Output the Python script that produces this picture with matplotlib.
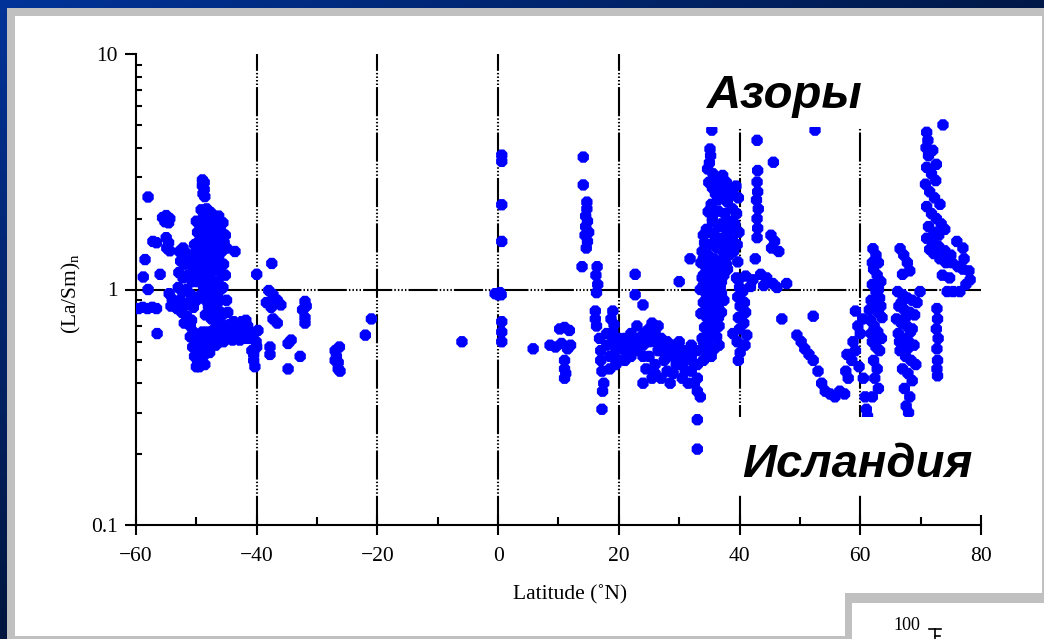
import numpy as np
import matplotlib.pyplot as plt
from matplotlib.patches import Rectangle
from matplotlib.lines import Line2D

# ---------------------------------------------------------------- data
lat_ticks = [-60, -40, -20, 0, 20, 40, 60, 80]
lat_minor = [-50, -30, -10, 10, 30, 50, 70]
ratio_ticks = [0.1, 1, 10]
ratio_labels = ["0.1", "1", "10"]
grid_lats = [-40, -20, 0, 20, 40, 60]

south_points = [
    (-58.0, 2.47), (-57.2, 1.60), (-56.6, 1.58),
    (-55.6, 2.02), (-55.0, 2.06), (-54.4, 2.00), (-55.2, 1.94), (-54.6, 1.92),
    (-55.0, 1.66), (-54.6, 1.58), (-54.9, 1.50), (-54.4, 1.46),
    (-58.5, 1.34), (-58.8, 1.13), (-56.0, 1.16), (-58.0, 1.00),
    (-59.6, 0.83), (-58.9, 0.84), (-58.1, 0.83), (-57.3, 0.84), (-56.6, 0.83),
    (-56.5, 0.65),
    (-54.5, 0.96), (-54.0, 0.91), (-53.6, 0.86), (-53.2, 0.83), (-54.2, 0.85),
    (-52.8, 1.45), (-52.2, 1.50), (-51.6, 1.42), (-52.6, 1.32), (-51.9, 1.28),
    (-51.2, 1.35), (-50.6, 1.25), (-52.9, 1.18), (-52.2, 1.12), (-51.4, 1.15),
    (-50.7, 1.08), (-53.0, 1.02), (-52.3, 0.98), (-51.6, 1.00), (-50.9, 0.95),
    (-52.7, 0.90), (-51.9, 0.86), (-51.2, 0.88), (-50.5, 0.84), (-52.4, 0.80),
    (-51.6, 0.77), (-50.8, 0.74), (-52.0, 0.72), (-51.0, 0.70), (-50.3, 1.55),
    (-50.4, 1.40),
    (-49.0, 2.92), (-48.7, 2.85), (-49.0, 2.76), (-48.7, 2.66), (-48.9, 2.55),
    (-48.6, 2.48),
    (-49.2, 2.18), (-48.3, 2.20), (-47.6, 2.12), (-48.8, 2.02), (-47.9, 1.98),
    (-47.0, 2.02), (-46.3, 2.05), (-45.6, 1.92), (-49.4, 1.88), (-48.5, 1.86),
    (-47.5, 1.82), (-46.6, 1.84), (-45.9, 1.76), (-49.0, 1.74), (-48.0, 1.70),
    (-47.0, 1.68), (-46.1, 1.62), (-45.4, 1.58), (-49.6, 1.60), (-48.6, 1.58),
    (-47.6, 1.55), (-46.7, 1.50), (-45.8, 1.45), (-49.2, 1.46), (-48.2, 1.42),
    (-47.2, 1.38), (-46.3, 1.34), (-45.5, 1.28), (-49.7, 1.34), (-48.8, 1.30),
    (-47.8, 1.26), (-46.9, 1.22), (-46.0, 1.18), (-49.3, 1.20), (-48.3, 1.15),
    (-47.4, 1.10), (-46.4, 1.07), (-45.6, 1.02), (-49.8, 1.08), (-48.8, 1.03),
    (-47.8, 0.99), (-46.9, 0.95), (-46.1, 0.90), (-49.4, 0.94), (-48.4, 0.90),
    (-47.3, 0.87), (-46.5, 0.82), (-45.7, 0.78), (-47.9, 0.80), (-46.9, 0.76),
    (-46.0, 0.72),
    (-50.0, 1.95), (-49.8, 1.75), (-50.0, 1.45), (-50.2, 1.20), (-50.0, 0.90),
    (-49.0, 1.95), (-48.0, 1.88), (-47.2, 1.92), (-46.0, 1.90), (-45.2, 1.70),
    (-45.0, 1.50), (-45.2, 1.15), (-45.0, 0.90), (-44.8, 0.80), (-45.6, 0.70),
    (-47.0, 1.55), (-48.0, 1.35), (-47.0, 1.30), (-46.0, 1.25), (-48.5, 1.22),
    (-47.5, 1.20), (-49.0, 1.12), (-48.0, 1.06), (-47.0, 1.03), (-46.0, 1.00),
    (-48.5, 0.96), (-47.5, 0.93), (-48.0, 0.85), (-47.0, 0.83), (-46.0, 0.80),
    (-48.5, 0.78), (-47.5, 0.75), (-46.5, 0.72),
    (-43.6, 1.45), (-40.0, 1.16), (-37.5, 1.29), (-38.0, 0.99), (-37.3, 0.95),
    (-36.6, 0.90), (-36.0, 0.86), (-38.4, 0.88), (-37.6, 0.84), (-32.0, 0.89),
    (-32.4, 0.82), (-32.0, 0.76), (-31.8, 0.85),
    (-51.0, 0.63), (-50.6, 0.57), (-50.3, 0.52), (-50.0, 0.47), (-49.6, 0.55),
    (-49.0, 0.60), (-48.6, 0.53), (-48.0, 0.57), (-47.5, 0.61), (-48.2, 0.66),
    (-47.0, 0.63), (-46.5, 0.68), (-46.0, 0.71), (-45.2, 0.68), (-44.4, 0.66),
    (-43.4, 0.70), (-42.4, 0.66), (-41.5, 0.70), (-40.7, 0.64), (-40.1, 0.60),
    (-39.8, 0.67), (-42.8, 0.61), (-44.8, 0.62), (-45.8, 0.64), (-43.8, 0.73),
    (-41.8, 0.74), (-40.8, 0.55), (-40.5, 0.50), (-40.3, 0.47), (-43.0, 0.64),
    (-41.2, 0.62), (-44.0, 0.69), (-45.5, 0.60), (-46.8, 0.58), (-48.6, 0.48),
    (-49.2, 0.50),
    (-50.5, 0.66), (-49.5, 0.63), (-49.0, 0.66), (-48.0, 0.62), (-47.0, 0.68),
    (-46.0, 0.62), (-45.0, 0.63), (-44.0, 0.61), (-43.0, 0.68), (-42.0, 0.70),
    (-42.0, 0.62), (-41.0, 0.66), (-44.5, 0.71), (-43.5, 0.65), (-42.5, 0.73),
    (-46.5, 0.64), (-45.5, 0.66), (-49.8, 0.50), (-49.5, 0.47), (-50.0, 0.58),
    (-49.4, 0.58), (-48.8, 0.56), (-47.8, 0.54), (-40.0, 0.57), (-40.5, 0.53),
    (-37.8, 0.53), (-37.8, 0.57), (-37.3, 0.75), (-36.6, 0.72), (-34.8, 0.59),
    (-34.3, 0.61), (-32.8, 0.52), (-34.8, 0.46), (-32.0, 0.72),
    (-27.0, 0.55), (-26.8, 0.52), (-26.5, 0.49), (-26.5, 0.46), (-26.2, 0.45),
    (-27.0, 0.50), (-26.3, 0.57),
    (-22.0, 0.64), (-21.0, 0.75),
]

equator_points = [
    (-6.0, 0.60), (0.6, 3.72), (0.6, 3.50), (0.6, 2.29), (0.6, 1.60),
    (-0.5, 0.96), (0.0, 0.95), (0.5, 0.95), (0.3, 0.97),
    (0.6, 0.73), (0.6, 0.66), (0.6, 0.60),
    (5.8, 0.56), (10.2, 0.68), (11.0, 0.69), (11.8, 0.67),
    (8.6, 0.58), (9.5, 0.57), (10.5, 0.59), (11.5, 0.56), (12.0, 0.58),
    (11.0, 0.50), (11.0, 0.46), (11.0, 0.42), (11.2, 0.44),
]

north_points = [
    (14.1, 3.65), (14.1, 2.78), (14.7, 2.35), (14.7, 2.20), (14.5, 2.05),
    (14.8, 1.95), (14.5, 1.85), (15.0, 1.75), (14.4, 1.70), (14.8, 1.60),
    (14.6, 1.50), (13.9, 1.25), (16.4, 1.25), (16.2, 1.15), (16.5, 1.05),
    (16.3, 0.97), (16.1, 0.81), (16.1, 0.75), (16.3, 0.70), (19.0, 0.81),
    (18.7, 0.75), (19.2, 0.71), (17.2, 0.31),
    (22.7, 1.16), (22.7, 0.95), (24.0, 0.86),
    (16.8, 0.62), (17.0, 0.55), (17.0, 0.50), (17.2, 0.45), (17.5, 0.40),
    (17.3, 0.37), (18.0, 0.58), (18.5, 0.52), (19.0, 0.60), (19.5, 0.55),
    (20.0, 0.50), (20.5, 0.58), (21.0, 0.62), (21.5, 0.55), (22.0, 0.65),
    (22.5, 0.60), (22.0, 0.52), (23.0, 0.70), (23.5, 0.62), (24.0, 0.58),
    (24.5, 0.66), (25.0, 0.60), (25.0, 0.52), (25.5, 0.72), (26.0, 0.65),
    (26.5, 0.55), (26.0, 0.48), (27.0, 0.62), (27.5, 0.50), (28.0, 0.45),
    (27.5, 0.58), (28.5, 0.56), (29.0, 0.52), (29.5, 0.48), (30.0, 0.55),
    (30.5, 0.50), (31.0, 0.45), (31.5, 0.40), (32.0, 0.52), (32.5, 0.48),
    (33.0, 0.42), (33.0, 0.37), (33.5, 0.35), (30.0, 1.08), (31.8, 1.35),
    (33.0, 0.28), (33.0, 0.21), (25.5, 0.42), (24.0, 0.40),
    (18.0, 0.65), (19.0, 0.66), (20.0, 0.62), (20.0, 0.56), (21.0, 0.55),
    (21.0, 0.50), (22.0, 0.58), (23.0, 0.55), (23.0, 0.62), (24.0, 0.64),
    (24.0, 0.52), (25.0, 0.68), (26.0, 0.60), (26.5, 0.70), (27.0, 0.55),
    (28.0, 0.60), (28.0, 0.52), (29.0, 0.58), (30.0, 0.60), (30.0, 0.48),
    (31.0, 0.55), (31.0, 0.50), (32.0, 0.58), (32.0, 0.45), (33.0, 0.55),
    (33.0, 0.48), (29.0, 0.44), (30.5, 0.42), (32.5, 0.40), (18.5, 0.46),
    (19.5, 0.48), (24.5, 0.46), (26.0, 0.44), (27.0, 0.42), (28.5, 0.40),
]

azores_points = [
    (35.4, 4.75), (35.1, 3.95), (35.2, 3.70), (35.0, 3.45), (34.7, 3.25),
    (35.6, 3.10), (36.2, 2.95), (34.9, 2.85), (35.5, 2.70), (36.0, 2.55),
    (34.8, 2.14), (35.3, 2.30), (36.4, 2.40),
    (37.2, 3.05), (37.8, 2.85), (38.4, 2.70), (38.9, 2.55), (39.4, 2.75),
    (39.8, 2.45), (38.0, 2.35), (38.8, 2.20), (39.5, 2.10), (37.5, 2.10),
    (38.3, 1.95), (39.2, 1.90), (39.9, 1.75), (38.0, 1.70), (38.8, 1.62),
    (39.6, 1.55), (37.4, 1.55),
    (35.5, 1.94), (36.5, 1.85), (34.5, 1.80), (35.8, 1.70), (36.8, 1.65),
    (34.2, 1.58), (35.2, 1.55), (36.3, 1.50), (37.3, 1.45), (33.8, 1.45),
    (34.8, 1.40), (35.8, 1.35), (36.8, 1.30), (37.8, 1.28), (33.6, 1.30),
    (34.4, 1.25), (35.4, 1.20), (36.4, 1.18), (37.4, 1.15), (33.8, 1.12),
    (34.8, 1.08), (35.8, 1.05), (36.8, 1.02), (33.5, 1.00), (34.4, 0.97),
    (35.4, 0.94), (36.4, 0.92), (37.4, 0.90), (34.0, 0.88), (35.0, 0.85),
    (36.0, 0.82), (37.0, 0.80), (33.6, 0.79), (34.6, 0.76), (35.6, 0.73),
    (36.6, 0.70), (34.2, 0.69), (35.2, 0.66), (36.2, 0.63), (33.8, 0.62),
    (34.8, 0.59), (35.8, 0.56), (34.3, 0.55), (35.3, 0.52), (34.0, 0.50),
    (36.6, 0.58),
    (34.0, 1.70), (35.0, 1.75), (36.0, 1.60), (34.0, 1.35), (35.0, 1.30),
    (36.0, 1.25), (37.0, 1.22), (34.0, 1.15), (35.0, 1.12), (36.0, 1.10),
    (37.0, 1.08), (34.0, 1.04), (35.0, 1.00), (36.0, 0.98), (37.0, 0.96),
    (34.5, 0.91), (35.5, 0.89), (36.5, 0.86), (34.5, 0.82), (35.5, 0.79),
    (36.5, 0.76), (35.0, 0.71), (36.0, 0.68), (35.0, 0.62), (34.0, 0.60),
    (36.0, 0.74), (35.5, 2.00), (36.5, 2.15), (37.0, 2.50), (36.8, 2.75),
    (37.5, 2.60), (38.2, 2.50), (37.0, 1.90), (37.8, 1.80), (38.5, 1.80),
    (37.8, 1.60), (38.5, 1.50), (37.5, 1.38), (38.2, 1.40), (39.0, 1.45),
    (38.0, 1.22),
    (39.7, 1.31), (39.8, 1.10), (40.0, 1.02), (39.7, 0.93), (40.1, 0.85),
    (39.8, 0.76), (40.0, 0.68), (39.6, 0.60), (40.1, 0.54), (39.8, 0.50),
    (42.9, 4.30), (45.6, 3.47), (43.0, 3.20), (42.9, 2.86), (43.0, 2.60),
    (42.8, 2.40), (43.1, 2.20), (42.9, 2.00), (43.0, 1.82), (42.9, 1.66),
    (45.2, 1.70), (45.8, 1.60), (46.5, 1.45), (45.3, 1.50), (42.6, 1.35),
    (39.5, 1.12), (41.0, 1.14), (42.2, 1.10), (43.5, 1.16), (44.5, 1.12),
    (45.5, 1.06), (46.2, 1.02), (41.8, 1.03), (44.0, 1.04), (47.8, 1.06),
    (40.5, 0.98), (40.8, 0.88), (41.0, 0.80), (40.7, 0.72), (41.2, 0.64),
    (40.9, 0.58), (47.0, 0.75), (38.9, 0.65),
    (49.5, 0.64), (50.2, 0.60), (50.8, 0.56), (51.5, 0.53), (52.2, 0.50),
    (52.2, 0.77), (52.5, 4.75),
]

iceland_points = [
    (53.0, 0.45), (53.6, 0.40), (54.2, 0.37), (55.0, 0.36), (55.8, 0.35),
    (56.6, 0.37), (57.4, 0.36), (58.0, 0.42), (57.6, 0.45), (57.8, 0.53),
    (58.8, 0.60), (59.2, 0.55), (59.6, 0.70), (60.0, 0.65), (60.4, 0.75),
    (59.2, 0.81), (58.6, 0.50), (59.8, 0.47), (60.5, 0.42), (60.8, 0.35),
    (61.0, 0.31), (61.2, 0.29),
    (62.1, 1.49), (62.6, 1.40), (63.0, 1.30), (62.2, 1.22), (62.8, 1.15),
    (63.4, 1.08), (62.0, 1.05), (62.6, 0.98), (63.2, 0.92), (61.8, 0.90),
    (62.4, 0.85), (63.0, 0.80), (63.6, 0.76), (61.7, 0.74), (62.3, 0.70),
    (62.9, 0.66), (63.5, 0.62), (62.0, 0.60), (62.6, 0.57), (63.2, 0.55),
    (62.2, 0.50), (62.8, 0.46), (62.4, 0.42), (63.0, 0.38), (62.0, 0.35),
    (63.0, 1.00), (62.0, 1.30), (63.4, 0.85), (61.5, 0.82), (61.8, 0.65),
    (66.6, 1.49), (67.2, 1.40), (67.8, 1.30), (68.2, 1.20), (67.0, 1.16),
    (66.2, 0.98), (67.0, 0.95), (67.8, 0.92), (68.6, 0.90), (69.4, 0.88),
    (66.4, 0.85), (67.3, 0.82), (68.2, 0.80), (69.0, 0.78), (66.0, 0.75),
    (66.8, 0.72), (67.7, 0.70), (68.6, 0.68), (66.3, 0.65), (67.2, 0.62),
    (68.0, 0.60), (68.9, 0.58), (66.6, 0.55), (67.5, 0.52), (68.4, 0.50),
    (69.2, 0.48), (67.0, 0.46), (67.9, 0.44), (68.6, 0.41), (67.3, 0.38),
    (68.2, 0.35), (67.6, 0.32), (68.0, 0.30), (69.9, 0.98),
    (66.8, 0.88), (67.5, 0.76), (68.3, 0.66), (66.5, 0.60), (67.8, 0.56),
    (72.7, 0.83), (72.8, 0.75), (72.6, 0.68), (72.9, 0.62), (72.7, 0.56),
    (72.8, 0.50), (72.7, 0.46), (72.8, 0.43),
    (73.7, 5.00), (71.0, 4.65), (71.2, 4.30), (70.9, 4.00), (71.3, 3.70),
    (72.0, 3.90), (72.6, 3.40), (71.0, 3.30), (71.8, 3.10), (72.5, 2.90),
    (70.8, 2.80), (71.5, 2.60), (72.3, 2.45), (73.2, 2.30), (71.0, 2.25),
    (71.8, 2.10), (72.6, 2.00), (73.4, 1.90), (71.3, 1.85), (72.2, 1.75),
    (73.0, 1.70), (74.0, 1.80),
    (71.0, 1.65), (72.0, 1.58), (73.0, 1.52), (74.0, 1.46), (75.0, 1.40),
    (76.0, 1.60), (77.0, 1.50), (77.2, 1.35), (77.0, 1.22), (76.2, 1.25),
    (75.2, 1.30), (74.2, 1.30), (73.2, 1.35), (72.2, 1.42), (71.5, 1.48),
    (78.0, 1.20), (78.2, 1.10), (77.5, 1.05), (74.4, 0.98), (75.4, 0.98),
    (76.5, 0.98), (73.6, 1.15), (74.8, 1.12),
]

# ---------------------------------------------------------------- figure
W, H = 1044, 639
fig = plt.figure(figsize=(W / 100, H / 100), dpi=100)

# slide background: blue gradient with a framed white panel
bg = fig.add_axes([0, 0, 1, 1], zorder=0)
xx, yy = np.meshgrid(np.linspace(0, 1, W), np.linspace(0, 1, H))
t = np.clip(0.85 * xx + 0.95 * yy, 0, 1)[..., None]
c_light = np.array([0, 51, 153]) / 255
c_dark = np.array([0, 20, 58]) / 255
bg.imshow(c_light * (1 - t) + c_dark * t, extent=[0, W, H, 0], aspect="auto")
bg.set_xlim(0, W)
bg.set_ylim(H, 0)
bg.axis("off")
bg.add_patch(Rectangle((7, 8), W, H, color="#c0c0c0", lw=0))
bg.add_patch(Rectangle((15, 16), 1027, 620, color="white", lw=0))

# ---------------------------------------------------------------- plot
serif = "Liberation Serif"
ax = fig.add_axes([136 / W, (H - 525) / H, 845 / W, 471 / H], zorder=2)
ax.set_facecolor("none")
ax.set_yscale("log")
ax.set_xlim(-60, 80)
ax.set_ylim(0.1, 10)

grid_style = (0, (14, 1.0, 0.7, 1.0, 0.7, 1.0, 0.7, 1.0, 0.7, 1.0))
ax.axhline(1, color="black", lw=1.5, ls=grid_style, zorder=1)
for g in grid_lats:
    ax.axvline(g, color="black", lw=1.5, ls=grid_style, zorder=1)

all_points = south_points + equator_points + north_points + azores_points + iceland_points
lat = [p[0] for p in all_points]
ratio = [p[1] for p in all_points]
ax.scatter(lat, ratio, s=78, marker="8", color="#0000ff", edgecolors="none",
           zorder=3)

for side in ("top", "right"):
    ax.spines[side].set_visible(False)
for side in ("left", "bottom"):
    ax.spines[side].set_linewidth(1.5)

ax.set_xticks(lat_ticks)
ax.set_xticklabels([str(v).replace("-", "\u2212") for v in lat_ticks])
ax.set_xticks(lat_minor, minor=True)
ax.tick_params(axis="x", which="major", direction="inout", length=14, width=1.5,
               pad=9, labelsize=15.5)
ax.tick_params(axis="x", which="minor", direction="in", length=5.5, width=1.5)

ax.set_yticks(ratio_ticks)
ax.set_yticklabels(ratio_labels)
minor_y = [m * d for d in (0.1, 1) for m in range(2, 10)]
ax.set_yticks(minor_y, minor=True)
ax.set_yticklabels([], minor=True)
ax.tick_params(axis="y", which="major", direction="out", length=8, width=1.5,
               pad=5, labelsize=15.5)
ax.tick_params(axis="y", which="minor", direction="in", length=4.5, width=1.5)
for lab in ax.get_xticklabels() + ax.get_yticklabels():
    lab.set_family(serif)

# ---------------------------------------------------------------- overlay
ov = fig.add_axes([0, 0, 1, 1], zorder=4)
ov.set_xlim(0, W)
ov.set_ylim(H, 0)
ov.axis("off")
ov.patch.set_alpha(0)

plt.rcParams["mathtext.default"] = "regular"
ov.text(71, 293, "(La/Sm)$_{n}$", rotation=90, ha="center", va="center",
        fontsize=15.5, family=serif)
ov.text(570, 595, "Latitude (\u02daN)", ha="center", va="center",
        fontsize=15.5, family=serif)

ov.add_patch(Rectangle((697, 44), 175, 83, color="white", lw=0))
ov.text(707, 108, "Азоры", fontsize=34, fontweight="bold", style="italic",
        family="Liberation Sans", va="baseline", ha="left")
ov.add_patch(Rectangle((733, 417), 252, 78, color="white", lw=0))
ov.text(742, 477, "Исландия", fontsize=34, fontweight="bold", style="italic",
        family="Liberation Sans", va="baseline", ha="left")

# neighbouring panel in the lower right corner
ov.add_patch(Rectangle((845, 593), W - 845, H - 593, color="#c0c0c0", lw=0))
ov.add_patch(Rectangle((852, 603), W - 852, H - 603, color="white", lw=0))
ov.text(907, 626, "100", ha="center", va="center", fontsize=13, family=serif)
ov.add_line(Line2D([929, 941], [629, 629], color="black", lw=1.2))
ov.add_line(Line2D([935, 935], [629, 640], color="black", lw=1.2))
ov.add_line(Line2D([935, 940], [636, 636], color="black", lw=1.2))

fig.savefig("out.png", dpi=100)
